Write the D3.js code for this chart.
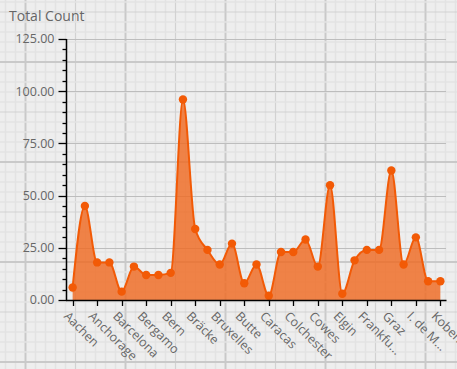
<!DOCTYPE html>
<html><head><meta charset="utf-8">
<script src="https://cdn.jsdelivr.net/npm/d3@7"></script>
<style>
html,body{margin:0;padding:0;background:#eeeeee;}
svg{display:block;font-family:"Open Sans",sans-serif;}
</style></head>
<body><svg id="c" width="457" height="369"></svg>
<script>
const categories = ["Aachen","Albuquerque","Anchorage","Århus","Barcelona","Barquisimeto","Bergamo","Berlin","Bern","Boise","Bräcke","Brandenburg","Bruxelles","Buenos Aires","Butte","Campinas","Caracas","Charleroi","Colchester","Cork","Cowes","Cunewalde","Elgin","Eugene","Frankfurt a.M.","Genève","Graz","Helsinki","I. de Margarita","Kirkland","Kobenhavn"];
const totalCount = [6,45,18,18,4,16,12,12,13,96,34,24,17,27,8,17,2,23,23,29,16,55,3,19,24,24,62,17,30,9,9];
const yTicks = [0,25,50,75,100,125];
const yTitle = "Total Count";

const W = 457, H = 369;
const svg = d3.select("#c");

// graph-paper background
const bg = svg.append("g");
bg.append("rect").attr("width", W).attr("height", H).attr("fill", "#eeeeee");
for (let x = 5.5; x < W; x += 10) {
  const k = Math.round((x - 25.5) / 10);
  const major = ((k % 10) + 10) % 10 === 0, med = ((k % 5) + 5) % 5 === 0;
  bg.append("line").attr("x1", x).attr("x2", x).attr("y1", 0).attr("y2", H)
    .attr("stroke", major ? "#c9c9c9" : med ? "#d2d2d2" : "#e3e3e3")
    .attr("stroke-width", major ? 2 : med ? 1.2 : 1.6);
}
for (let y = 2; y < H; y += 10) {
  const k = Math.round((y - 62) / 10);
  const major = ((k % 10) + 10) % 10 === 0, med = ((k % 5) + 5) % 5 === 0;
  bg.append("line").attr("y1", y).attr("y2", y).attr("x1", 0).attr("x2", W)
    .attr("stroke", major ? "#c9c9c9" : med ? "#d2d2d2" : "#e3e3e3")
    .attr("stroke-width", major ? 2 : med ? 1.2 : 1.6);
}

const x = d3.scaleBand().domain(categories).range([66.5, 446.5]).padding(0);
const y = d3.scaleLinear().domain([0, 125]).range([300, 39]);
const cx = d => x(d) + x.bandwidth() / 2;

// horizontal gridlines
svg.append("g").selectAll("line").data(yTicks).join("line")
  .attr("x1", 66).attr("x2", 446)
  .attr("y1", d => Math.round(y(d)) + 0.5).attr("y2", d => Math.round(y(d)) + 0.5)
  .attr("stroke", "#bdbdbd").attr("stroke-width", 1);

const data = categories.map((c, i) => ({c, v: totalCount[i]}));

const area = d3.area().x(d => cx(d.c)).y0(y(0)).y1(d => y(d.v)).curve(d3.curveMonotoneX);
const line = d3.line().x(d => cx(d.c)).y(d => y(d.v)).curve(d3.curveMonotoneX);

svg.append("path").datum(data).attr("d", area).attr("fill", "#ef6a22").attr("fill-opacity", 0.82);
svg.append("path").datum(data).attr("d", line).attr("fill", "none").attr("stroke", "#f25a06").attr("stroke-width", 2);
svg.append("g").selectAll("circle").data(data).join("circle")
  .attr("cx", d => cx(d.c)).attr("cy", d => y(d.v)).attr("r", 4.2).attr("fill", "#f25a06");

// y axis
const yAxis = d3.axisLeft(y).tickValues(d3.range(0, 126, 5)).tickSize(0).tickFormat("");
const ya = svg.append("g").attr("transform", "translate(66.5,0)");
ya.append("line").attr("y1", y(125)).attr("y2", y(0)).attr("stroke", "#000").attr("stroke-width", 1.5);
ya.selectAll(".mt").data(d3.range(0, 126, 5)).join("line")
  .attr("x1", d => d % 25 === 0 ? -8 : -4).attr("x2", 0)
  .attr("y1", d => Math.round(y(d)) + 0.5).attr("y2", d => Math.round(y(d)) + 0.5)
  .attr("stroke", "#000").attr("stroke-width", 1.3);
ya.selectAll("text").data(yTicks).join("text")
  .attr("x", -12).attr("y", d => y(d)).attr("dy", "0.35em")
  .attr("text-anchor", "end").attr("fill", "#666").attr("font-size", 12.5)
  .text(d3.format(".2f"));

// x axis
const xa = svg.append("g");
xa.append("line").attr("x1", 66).attr("x2", 446.5).attr("y1", 300.5).attr("y2", 300.5)
  .attr("stroke", "#000").attr("stroke-width", 1.5);
const labeled = categories.filter((c, i) => i % 2 === 0);
xa.selectAll(".t").data(labeled).join("line")
  .attr("x1", d => Math.round(cx(d)) + 0.5).attr("x2", d => Math.round(cx(d)) + 0.5)
  .attr("y1", 300).attr("y2", 306).attr("stroke", "#000").attr("stroke-width", 1.3);
const trunc = s => s.length > 10 ? s.slice(0, 7) + "..." : s;
xa.selectAll("text").data(labeled).join("text")
  .attr("transform", d => `translate(${cx(d) - 9.5},317) rotate(45)`)
  .attr("fill", "#666").attr("font-size", 12.5)
  .text(trunc);

// title
svg.append("text").attr("x", 9).attr("y", 21).attr("fill", "#666").attr("font-size", 14).text(yTitle);
</script></body></html>
